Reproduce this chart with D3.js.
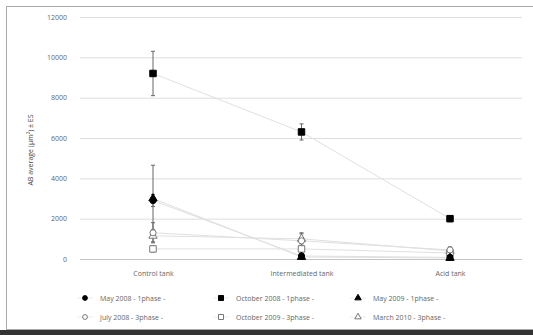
<!DOCTYPE html>
<html>
<head>
<meta charset="utf-8">
<script src="https://d3js.org/d3.v7.min.js"></script>
<style>
  body { margin: 0; background: #ffffff; }
  text { font-family: "Open Sans", "DejaVu Sans", sans-serif; fill: #555; }
</style>
</head>
<body>
<script>
// categories and series
var categories = ["Control tank", "Intermediated tank", "Acid tank"];
var yTicks = [0, 2000, 4000, 6000, 8000, 10000, 12000];

var seriesNames = ["May 2008 - 1phase -", "October 2008 - 1phase -", "May 2009 - 1phase -",
                   "July 2008 - 3phase -", "October 2009 - 3phase -", "March 2010 - 3phase -"];
var may2008 = [2900, 150, 80];
var oct2008 = [9200, 6300, 2000];
var may2009 = [3000, 100, 50];
var jul2008 = [1300, 900, 450];
var oct2009 = [500, 500, 300];
var mar2010 = [1150, 1000, 400];

var may2008Err = [300, 50, 30];
var oct2008Err = [1100, 400, 150];
var may2009Err = [1650, 50, 30];
var jul2008Err = [500, 400, 150];
var oct2009Err = [150, 150, 100];
var mar2010Err = [300, 250, 100];

var series = [
  { name: seriesNames[0], values: may2008, err: may2008Err, shape: "circle", fill: "#000" },
  { name: seriesNames[1], values: oct2008, err: oct2008Err, shape: "square", fill: "#000" },
  { name: seriesNames[2], values: may2009, err: may2009Err, shape: "triangle", fill: "#000" },
  { name: seriesNames[3], values: jul2008, err: jul2008Err, shape: "circle", fill: "#fff" },
  { name: seriesNames[4], values: oct2009, err: oct2009Err, shape: "square", fill: "#fff" },
  { name: seriesNames[5], values: mar2010, err: mar2010Err, shape: "triangle", fill: "#fff" }
];

var w = 533, h = 335;
var svg = d3.select("body").append("svg").attr("width", w).attr("height", h);

// frame
svg.append("rect").attr("x", 6.5).attr("y", 6.5).attr("width", 530).attr("height", 323)
  .attr("fill", "#fff").attr("stroke", "#aaa").attr("stroke-width", 1);
svg.append("rect").attr("x", 0).attr("y", 330).attr("width", w).attr("height", 5).attr("fill", "#333");

var margin = { left: 80, right: 11, top: 17, bottom: 76 };
var x = d3.scalePoint().domain(categories).range([153, 450]);
var y = d3.scaleLinear().domain([0, 12000]).range([259, 17]);

// grid
svg.append("g").selectAll("line").data(yTicks).enter().append("line")
  .attr("x1", margin.left).attr("x2", 522)
  .attr("y1", function(d) { return y(d) + 0.5; })
  .attr("y2", function(d) { return y(d) + 0.5; })
  .attr("stroke", function(d) { return d === 0 ? "#c4c4c4" : "#dedede"; })
  .attr("stroke-width", 1);

// y axis labels
var yAxis = d3.axisLeft(y).tickValues(yTicks).tickFormat(d3.format("d")).tickSize(0).tickPadding(13);
var gy = svg.append("g").attr("transform", "translate(" + margin.left + ",0)").call(yAxis);
gy.select(".domain").remove();
gy.selectAll("text").style("font-size", "7px").style("fill", "#666");

// x axis labels
var xAxis = d3.axisBottom(x).tickSize(0).tickPadding(12);
var gx = svg.append("g").attr("transform", "translate(0,259)").call(xAxis);
gx.select(".domain").remove();
gx.selectAll("text").style("font-size", "7px").style("fill", "#666");

// y title
svg.append("text")
  .attr("transform", "translate(33,150) rotate(-90)")
  .attr("text-anchor", "middle")
  .style("font-size", "7px")
  .style("fill", "#444")
  .text("AB average (\u03BCm\u00B2) \u00B1 ES");

// lines
var line = d3.line().x(function(d, i) { return x(categories[i]); }).y(function(d) { return y(d); });
svg.append("g").selectAll("path").data(series).enter().append("path")
  .attr("d", function(s) { return line(s.values); })
  .attr("fill", "none").attr("stroke", "#e0e0e0").attr("stroke-width", 1);

// error bars
series.forEach(function(s) {
  var g = svg.append("g");
  s.values.forEach(function(v, i) {
    var cx = x(categories[i]);
    var e = s.err[i];
    g.append("line").attr("x1", cx).attr("x2", cx).attr("y1", y(v + e)).attr("y2", y(Math.max(0, v - e)))
      .attr("stroke", "#666").attr("stroke-width", 1);
    [v + e, Math.max(0, v - e)].forEach(function(t) {
      g.append("line").attr("x1", cx - 2).attr("x2", cx + 2).attr("y1", y(t)).attr("y2", y(t))
        .attr("stroke", "#666").attr("stroke-width", 1);
    });
  });
});

function drawMarker(g, shape, fill, cx, cy, size) {
  var sym = shape === "circle" ? d3.symbolCircle : shape === "square" ? d3.symbolSquare : d3.symbolTriangle;
  g.append("path")
    .attr("d", d3.symbol().type(sym).size(size)())
    .attr("transform", "translate(" + cx + "," + cy + ")")
    .attr("fill", fill)
    .attr("stroke", fill === "#000" ? "#000" : "#777")
    .attr("stroke-width", 1);
}

// markers
var marks = svg.append("g");
series.slice().reverse().forEach(function(s) {
  s.values.forEach(function(v, i) {
    drawMarker(marks, s.shape, s.fill, x(categories[i]), y(v), s.shape === "square" ? 42 : 30);
  });
});

// legend
var legend = svg.append("g");
var colX = [85, 221, 358];
var rowY = [298, 317];
series.forEach(function(s, i) {
  var col = i % 3, row = Math.floor(i / 3);
  var lx = colX[col], ly = rowY[row];
  legend.append("line").attr("x1", lx - 8).attr("x2", lx + 8).attr("y1", ly).attr("y2", ly)
    .attr("stroke", "#ececec");
  drawMarker(legend, s.shape, s.fill, lx, ly, s.shape === "square" ? 25 : 18);
  legend.append("text").attr("x", lx + 15).attr("y", ly + 2.5)
    .style("font-size", "7px").style("fill", "#666").text(s.name);
});
</script>
</body>
</html>
